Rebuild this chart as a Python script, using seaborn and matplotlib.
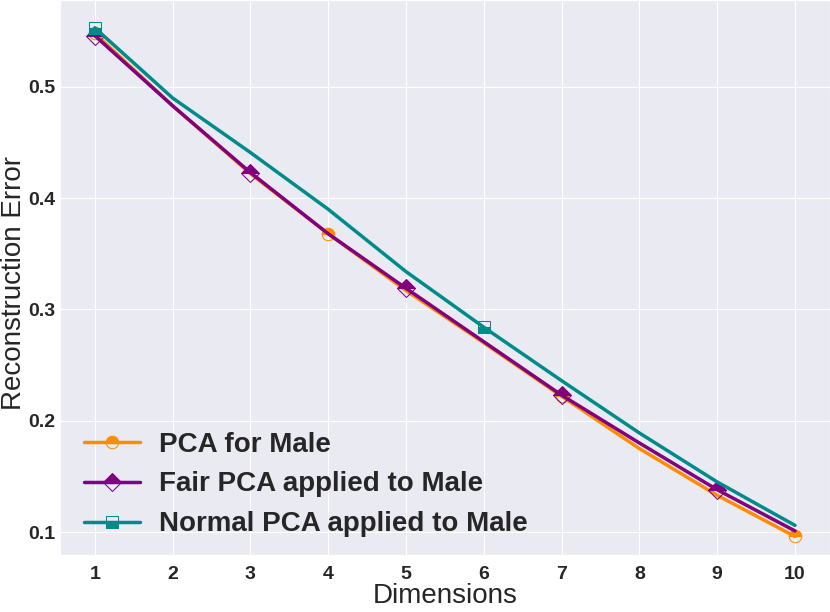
import numpy as np
import pandas as pd
import seaborn as sns
import matplotlib
matplotlib.use("Agg")
import matplotlib.pyplot as plt

sns.set_style("darkgrid")
plt.rcParams['font.family'] = ['Liberation Sans', 'DejaVu Sans']

dims = [1, 2, 3, 4, 5, 6, 7, 8, 9, 10]
pca_male = [0.548, 0.483, 0.422, 0.368, 0.317, 0.270, 0.222, 0.175, 0.133, 0.096]
fair_male = [0.546, 0.483, 0.423, 0.368, 0.319, 0.271, 0.223, 0.180, 0.138, 0.101]
normal_male = [0.553, 0.490, 0.441, 0.390, 0.334, 0.284, 0.236, 0.189, 0.145, 0.106]

fig, ax = plt.subplots(figsize=(8.3, 6.12), dpi=100)

sns.lineplot(x=dims, y=pca_male, ax=ax, color='darkorange', lw=2.5,
             marker='o', markersize=9, fillstyle='top', markevery=3,
             markeredgecolor='darkorange', label='PCA for Male')
sns.lineplot(x=dims, y=fair_male, ax=ax, color='purple', lw=2.5,
             marker='D', markersize=9, fillstyle='top', markevery=2,
             markeredgecolor='purple', label='Fair PCA applied to Male')
sns.lineplot(x=dims, y=normal_male, ax=ax, color='darkcyan', lw=2.5,
             marker='s', markersize=9, fillstyle='bottom', markevery=5,
             markeredgecolor='darkcyan', label='Normal PCA applied to Male')

ax.set_xticks(dims)
ax.set_xlim(0.55, 10.45)
ax.set_ylim(0.0793, 0.578)
ax.set_xlabel('Dimensions', fontsize=20, labelpad=0)
ax.set_ylabel('Reconstruction Error', fontsize=20)
ax.yaxis.set_label_coords(-0.043, 0.49)
for t in ax.get_xticklabels() + ax.get_yticklabels():
    t.set_fontweight('bold')
    t.set_fontsize(14)
ax.tick_params(axis='y', pad=0)
ax.tick_params(axis='x', pad=4)

leg = ax.legend(loc='lower left', bbox_to_anchor=(0.017, 0.012), borderaxespad=0,
                frameon=False, prop={'weight': 'bold', 'size': 20},
                handlelength=2.0, handletextpad=0.7)

fig.subplots_adjust(left=0.072, right=1.0, top=1.0, bottom=0.093)
plt.savefig('out.png', format='png')
plt.close()
